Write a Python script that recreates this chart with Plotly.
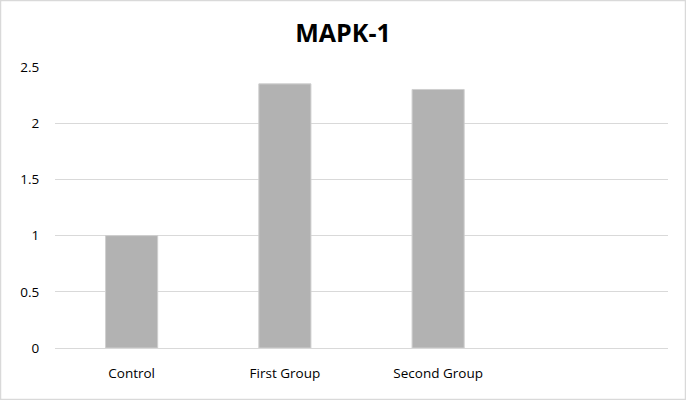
import plotly.graph_objects as go

categories = ["Control", "First Group", "Second Group"]
values = [1.0, 2.35, 2.3]
y_ticks = [0, 0.5, 1, 1.5, 2, 2.5]
y_tick_labels = ["0", "0.5", "1", "1.5", "2", "2.5"]

fig = go.Figure(go.Bar(
    x=categories, y=values,
    marker=dict(color="#b2b2b2", line=dict(color="#cfcfcf", width=1)),
    width=0.34,
))

fig.update_layout(
    width=686, height=400,
    paper_bgcolor="white", plot_bgcolor="white",
    margin=dict(l=55, r=18, t=67, b=52),
    title=dict(text="<b>MAPK-1</b>", x=0.5, xanchor="center", y=1 - 33 / 400,
               yanchor="middle", yref="container",
               font=dict(family="Open Sans", size=25, color="#000000")),
    font=dict(family="Open Sans", size=13.5, color="#000000"),
    showlegend=False,
    xaxis=dict(range=[-0.5, 3.5], showgrid=False, showline=True, linecolor="#d9d9d9",
               linewidth=1, ticks="outside", ticklen=13, tickcolor="rgba(0,0,0,0)",
               zeroline=False, fixedrange=True),
    yaxis=dict(range=[0, 2.5], tickvals=y_ticks, ticktext=y_tick_labels,
               showgrid=True, gridcolor="#d9d9d9", gridwidth=1, zeroline=False,
               showline=False, ticks="outside", ticklen=12, tickcolor="rgba(0,0,0,0)"),
)
# outer frame
fig.add_shape(type="rect", xref="x domain", yref="y domain",
              x0=-54.5 / 613, x1=1 + 17.5 / 613, y0=-51.5 / 281, y1=1 + 66.5 / 281,
              line=dict(color="#d9d9d9", width=1.5), layer="below")

fig.write_html("out.html", config={"displayModeBar": False},
               post_script="document.body.style.margin='0';document.body.style.overflow='hidden';")
